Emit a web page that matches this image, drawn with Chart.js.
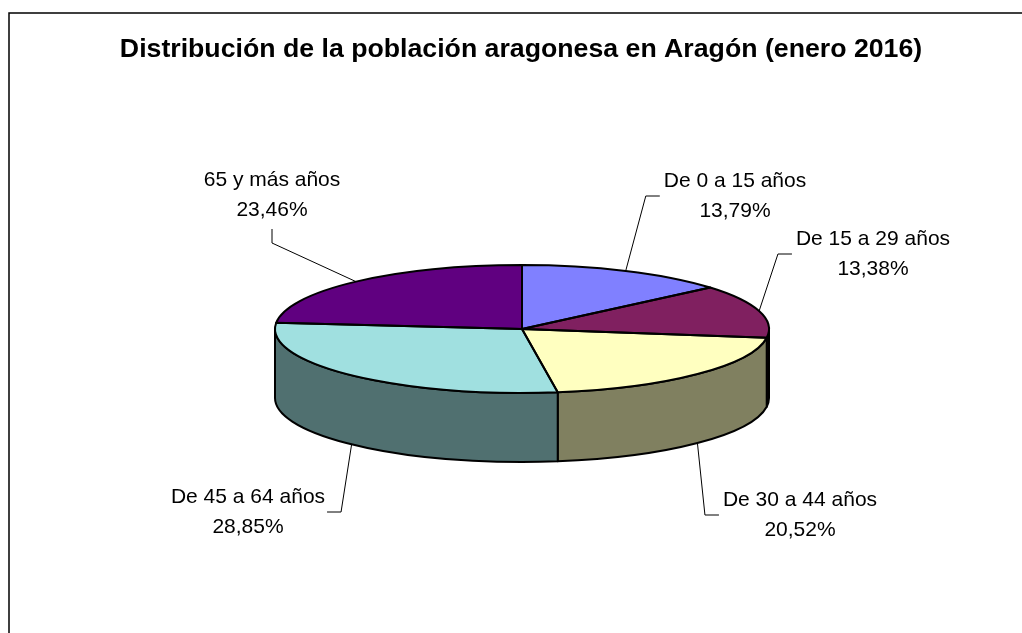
<!DOCTYPE html>
<html>
<head>
<meta charset="utf-8">
<script src="https://cdn.jsdelivr.net/npm/chart.js@4"></script>
<style>
  html, body { margin: 0; padding: 0; background: #ffffff; }
  #wrap { width: 1022px; height: 633px; position: relative; }
</style>
</head>
<body>
<div id="wrap"><canvas id="c" width="1022" height="633"></canvas></div>
<script>
const chartTitle = 'Distribución de la población aragonesa en Aragón (enero 2016)';
const categories = ['De 0 a 15 años', 'De 15 a 29 años', 'De 30 a 44 años', 'De 45 a 64 años', '65 y más años'];
const shares = [13.79, 13.38, 20.52, 28.85, 23.46];
const shareLabels = ['13,79%', '13,38%', '20,52%', '28,85%', '23,46%'];

const topColors = ['#8080FF', '#802060', '#FFFFC0', '#A0E0E0', '#600080'];
const sideColors = ['#404080', '#401030', '#808060', '#507070', '#300040'];

// label placement (layout, not data)
const labelLayout = [
  { x: 735, y: 196, side: 'left' },
  { x: 873, y: 254, side: 'left' },
  { x: 800, y: 515, side: 'left' },
  { x: 248, y: 512, side: 'right' },
  { x: 272, y: 195, side: 'bottom' }
];

const TILT_RY = 64;   // vertical radius of the top ellipse
const DEPTH = 69;     // thickness of the pie
const LABEL_FONT = '21px "Liberation Sans", Arial, sans-serif';
const TITLE_FONT = 'bold 26.7px "Liberation Sans", Arial, sans-serif';

function geom(chart) {
  const arcs = chart.getDatasetMeta(0).data;
  const a0 = arcs[0];
  return { arcs, cx: a0.x, cy: a0.y, R: a0.outerRadius, RY: TILT_RY };
}

const pie3d = {
  id: 'pie3d',
  beforeDraw(chart) {
    const ctx = chart.ctx;
    ctx.save();
    ctx.strokeStyle = '#000';
    ctx.lineWidth = 1.5;
    ctx.beginPath();
    ctx.moveTo(9, 633);
    ctx.lineTo(9, 13);
    ctx.lineTo(1022, 13);
    ctx.stroke();
    ctx.fillStyle = '#000';
    ctx.font = TITLE_FONT;
    ctx.textAlign = 'center';
    ctx.textBaseline = 'middle';
    ctx.fillText(chartTitle, 521, 50);
    ctx.restore();
  },
  beforeDatasetsDraw(chart) {
    const ctx = chart.ctx;
    const { arcs, cx, cy, R, RY } = geom(chart);
    ctx.save();
    ctx.lineWidth = 2;
    ctx.strokeStyle = '#000';
    ctx.lineJoin = 'round';
    arcs.forEach((arc, i) => {
      const ranges = [[0, Math.PI], [2 * Math.PI, 3 * Math.PI], [-2 * Math.PI, -Math.PI]];
      ranges.forEach(([lo, hi]) => {
        const a1 = Math.max(arc.startAngle, lo);
        const a2 = Math.min(arc.endAngle, hi);
        if (a2 - a1 <= 1e-6) return;
        ctx.beginPath();
        ctx.ellipse(cx, cy, R, RY, 0, a1, a2, false);
        ctx.lineTo(cx + R * Math.cos(a2), cy + RY * Math.sin(a2) + DEPTH);
        ctx.ellipse(cx, cy + DEPTH, R, RY, 0, a2, a1, true);
        ctx.closePath();
        ctx.fillStyle = sideColors[i];
        ctx.fill();
        ctx.stroke();
      });
    });
    ctx.restore();
    ctx.save();
    ctx.translate(cx, cy);
    ctx.scale(1, RY / R);
    ctx.translate(-cx, -cy);
  },
  afterDatasetsDraw(chart) {
    const ctx = chart.ctx;
    ctx.restore();
    const { arcs, cx, cy, R, RY } = geom(chart);
    ctx.save();
    ctx.lineWidth = 2;
    ctx.strokeStyle = '#000';
    ctx.lineJoin = 'round';
    arcs.forEach((arc) => {
      ctx.beginPath();
      ctx.moveTo(cx, cy);
      ctx.ellipse(cx, cy, R, RY, 0, arc.startAngle, arc.endAngle, false);
      ctx.closePath();
      ctx.stroke();
    });
    ctx.restore();
  },
  afterDraw(chart) {
    const ctx = chart.ctx;
    const { arcs, cx, cy, R, RY } = geom(chart);
    ctx.save();
    ctx.font = LABEL_FONT;
    ctx.fillStyle = '#000';
    ctx.textAlign = 'center';
    ctx.textBaseline = 'middle';
    arcs.forEach((arc, i) => {
      const L = labelLayout[i];
      const l1 = categories[i], l2 = shareLabels[i];
      const w = Math.max(ctx.measureText(l1).width, ctx.measureText(l2).width);
      ctx.fillText(l1, L.x, L.y - 15);
      ctx.fillText(l2, L.x, L.y + 15);
      const m = (arc.startAngle + arc.endAngle) / 2;
      let ax = cx + R * Math.cos(m);
      let ay = cy + RY * Math.sin(m);
      if (Math.sin(m) > 0) ay += DEPTH;
      let s1, s2;
      if (L.side === 'left') {
        const left = L.x - w / 2;
        s1 = [left - 4, L.y]; s2 = [left - 18, L.y];
      } else if (L.side === 'right') {
        const right = L.x + w / 2;
        s1 = [right + 2, L.y]; s2 = [right + 16, L.y];
      } else {
        s1 = [L.x, L.y + 34]; s2 = [L.x, L.y + 48];
      }
      ctx.beginPath();
      ctx.strokeStyle = '#000';
      ctx.lineWidth = 1;
      ctx.moveTo(s1[0], s1[1]);
      ctx.lineTo(s2[0], s2[1]);
      ctx.lineTo(ax, ay);
      ctx.stroke();
    });
    ctx.restore();
  }
};

new Chart(document.getElementById('c'), {
  type: 'pie',
  data: {
    labels: categories,
    datasets: [{
      data: shares,
      backgroundColor: topColors,
      borderWidth: 0,
      hoverOffset: 0,
      offset: 0,
      clip: false
    }]
  },
  options: {
    responsive: false,
    animation: false,
    events: [],
    rotation: 0,
    layout: { padding: { left: 275, right: 253, top: 82, bottom: 57 } },
    plugins: {
      legend: { display: false },
      title: { display: false },
      tooltip: { enabled: false }
    }
  },
  plugins: [pie3d]
});
</script>
</body>
</html>
